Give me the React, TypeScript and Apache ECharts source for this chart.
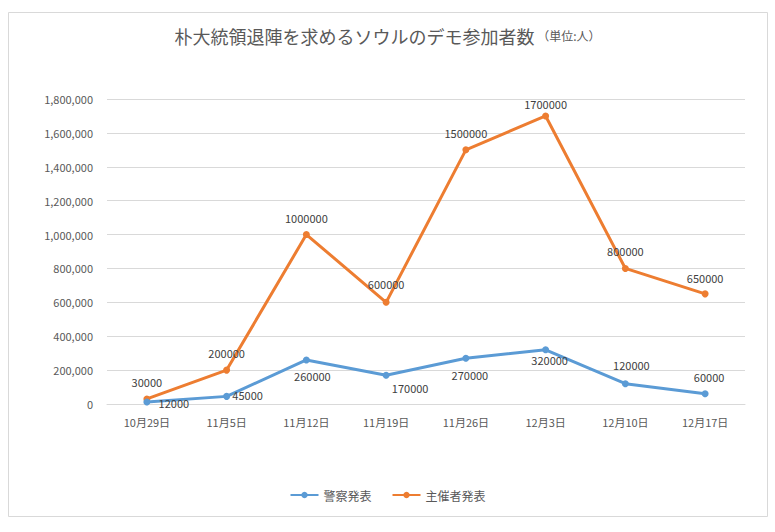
import React, { useEffect, useRef } from "react";
import * as echarts from "echarts";

const categories = ["10月29日", "11月5日", "11月12日", "11月19日", "11月26日", "12月3日", "12月10日", "12月17日"];
const policeValues = [12000, 45000, 260000, 170000, 270000, 320000, 120000, 60000];
const organizerValues = [30000, 200000, 1000000, 600000, 1500000, 1700000, 800000, 650000];
const yTicks = [0, 200000, 400000, 600000, 800000, 1000000, 1200000, 1400000, 1600000, 1800000];
const seriesNames = ["警察発表", "主催者発表"];

// label offsets (style only): center of label relative to point
const policeLabelOffsets = [[27, 1], [21, -1], [6, 16], [24, 13], [4, 17], [4, 10], [6, -19], [4, -17]];
const organizerLabelOffsets = [[0, -17], [0, -17], [0, -17], [0, -18], [0, -17], [0, -12], [0, -17], [0, -16]];

const FONT = '"Noto Sans CJK JP", "Noto Sans", sans-serif';

export default function App() {
  const ref = useRef<HTMLDivElement>(null);
  useEffect(() => {
    document.body.style.margin = "0";
    const chart = echarts.init(ref.current!, null, { renderer: "svg" });
    const mkData = (vals: number[], offs: number[][]) =>
      vals.map((v, i) => ({
        value: v,
        label: { show: true, position: "inside", offset: offs[i] },
      }));
    chart.setOption({
      animation: false,
      backgroundColor: "#ffffff",
      textStyle: { fontFamily: FONT },
      title: {
        text: "{a|朴大統領退陣を求めるソウルのデモ参加者数}{b| （単位:人）}",
        left: "center",
        top: 22,
        textStyle: {
          fontWeight: "normal",
          rich: {
            a: { fontSize: 18, color: "#595959", fontFamily: FONT, fontWeight: "normal" },
            b: { fontSize: 12, color: "#595959", fontFamily: FONT, fontWeight: "normal" },
          },
        },
      },
      graphic: [
        {
          type: "rect",
          shape: { x: 8.5, y: 12.5, width: 759, height: 504 },
          style: { fill: "none", stroke: "#d9d9d9", lineWidth: 1 },
          silent: true,
        },
      ],
      legend: {
        bottom: 26,
        left: "center",
        itemWidth: 28,
        itemHeight: 8,
        itemGap: 20,
        textStyle: { fontSize: 12, color: "#595959", fontFamily: FONT },
        data: seriesNames,
      },
      grid: { left: 107, right: 30, top: 99, bottom: 128, containLabel: false },
      xAxis: {
        type: "category",
        data: categories,
        boundaryGap: true,
        axisLine: { lineStyle: { color: "#d9d9d9" } },
        axisTick: { show: false },
        axisLabel: { color: "#595959", fontSize: 11, margin: 12, fontFamily: FONT },
      },
      yAxis: {
        type: "value",
        min: yTicks[0],
        max: yTicks[yTicks.length - 1],
        interval: yTicks[1] - yTicks[0],
        axisLine: { show: false },
        axisTick: { show: false },
        splitLine: { lineStyle: { color: "#d9d9d9" } },
        axisLabel: {
          color: "#595959",
          fontSize: 11,
          margin: 14,
          fontFamily: FONT,
          formatter: (v: number) => v.toLocaleString("en-US"),
        },
      },
      series: [
        {
          name: seriesNames[0],
          type: "line",
          data: mkData(policeValues, policeLabelOffsets),
          color: "#5B9BD5",
          lineStyle: { width: 3, color: "#5B9BD5" },
          symbol: "circle",
          symbolSize: 7,
          itemStyle: { color: "#5B9BD5" },
          label: { color: "#404040", fontSize: 11, fontFamily: FONT },
          z: 3,
        },
        {
          name: seriesNames[1],
          type: "line",
          data: mkData(organizerValues, organizerLabelOffsets),
          color: "#ED7D31",
          lineStyle: { width: 3, color: "#ED7D31" },
          symbol: "circle",
          symbolSize: 7,
          itemStyle: { color: "#ED7D31" },
          label: { color: "#404040", fontSize: 11, fontFamily: FONT },
          z: 2,
        },
      ],
    });
    return () => chart.dispose();
  }, []);
  return <div ref={ref} style={{ width: 775, height: 532 }} />;
}
